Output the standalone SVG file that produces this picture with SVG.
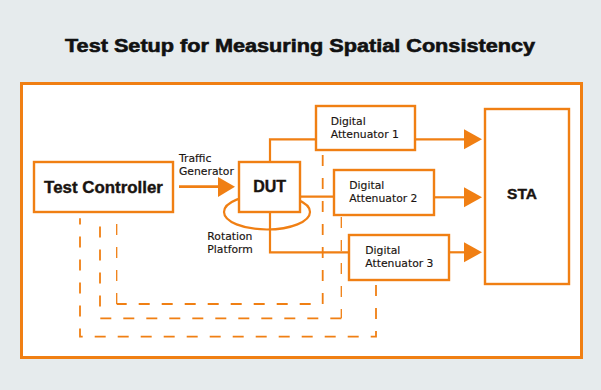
<svg xmlns="http://www.w3.org/2000/svg" width="601" height="390" viewBox="0 0 601 390">
<style>
.box{fill:#fff;stroke:#f07f13;stroke-width:2.4}
.ln{fill:none;stroke:#f07f13;stroke-width:2.2}
.dash{fill:none;stroke:#f07f13;stroke-width:1.8;stroke-dasharray:11 12}
.dt{fill:none;stroke:#f07f13;stroke-width:1.3;stroke-dasharray:11 12}
.hd{fill:#f07f13}
.b{font-family:"Liberation Sans",Arial,sans-serif;font-weight:700;fill:#1a1410;stroke:#1a1410;stroke-width:0.4}
.r{font-family:"DejaVu Sans",sans-serif;font-size:10.8px;fill:#1a1410;stroke:#1a1410;stroke-width:0.15}
</style>
<rect width="601" height="390" fill="#e6ebed"/>
<text x="300" y="51.7" text-anchor="middle" class="b" style="font-size:18.8px;fill:#111;stroke:#111;stroke-width:0.6" textLength="470" lengthAdjust="spacingAndGlyphs">Test Setup for Measuring Spatial Consistency</text>
<rect x="21.5" y="83.5" width="560" height="274" fill="#fff" stroke="#f07f13" stroke-width="3"/>
<g id="connectors">
<path class="ln" d="M270 162 V139.3 H316"/>
<path class="ln" d="M300 196.7 H334"/>
<path class="ln" d="M270 212 V252.3 H349"/>
<line class="ln" x1="179" y1="186.7" x2="220" y2="186.7" style="stroke-width:2.7"/>
<polygon class="hd" points="218,177 235,186.7 218,197"/>
<line class="ln" x1="415" y1="139.3" x2="466" y2="139.3"/>
<polygon class="hd" points="464,129.3 482,139.3 464,149.3"/>
<line class="ln" x1="434" y1="197.3" x2="466" y2="197.3"/>
<polygon class="hd" points="464,187.3 482,197.3 464,207.3"/>
<line class="ln" x1="449" y1="252.3" x2="466" y2="252.3"/>
<polygon class="hd" points="464,242.3 482,252.3 464,262.3"/>
<path class="dash" d="M322.7 155 V304 H116.7"/>
<path class="dt" d="M116.7 304 V217.7"/>
<path class="dt" d="M341.3 217 V318.3"/>
<path class="dash" d="M341.3 318.3 H100 V219"/>
<path class="dash" d="M376 285 V336.7 H80 V218.3"/>
</g>
<g id="rotation-platform">
<ellipse cx="267" cy="212" rx="43" ry="17.5" class="ln"/>
<text class="r" x="207.3" y="240">Rotation</text>
<text class="r" x="207.3" y="253.3">Platform</text>
</g>
<g id="test-controller">
<rect class="box" x="34" y="162" width="139" height="50"/>
<text class="b" x="103.5" y="192.7" text-anchor="middle" style="font-size:16.9px">Test Controller</text>
</g>
<g id="traffic-label">
<text class="r" x="179" y="161.7">Traffic</text>
<text class="r" x="179" y="175">Generator</text>
</g>
<g id="dut">
<rect class="box" x="239" y="162" width="61" height="50"/>
<text class="b" x="269.7" y="192" text-anchor="middle" style="font-size:16px">DUT</text>
</g>
<g id="da1">
<rect class="box" x="316" y="106" width="99" height="44"/>
<text class="r" x="330.7" y="125">Digital</text>
<text class="r" x="330.7" y="137.7">Attenuator 1</text>
</g>
<g id="da2">
<rect class="box" x="334" y="170" width="100" height="45"/>
<text class="r" x="349.3" y="189">Digital</text>
<text class="r" x="349.3" y="201.7">Attenuator 2</text>
</g>
<g id="da3">
<rect class="box" x="349" y="235" width="100" height="45"/>
<text class="r" x="365.3" y="254">Digital</text>
<text class="r" x="365.3" y="266.7">Attenuator 3</text>
</g>
<g id="sta">
<rect class="box" x="485" y="109" width="84" height="175"/>
<text class="b" x="522" y="199" text-anchor="middle" style="font-size:15.5px">STA</text>
</g>
</svg>
